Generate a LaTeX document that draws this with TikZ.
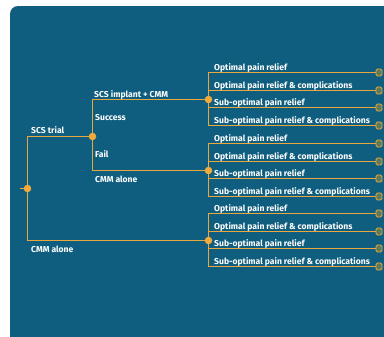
\documentclass[tikz,border=0pt]{standalone}
\usepackage{fontspec}
\setmainfont{Fira Sans}
\definecolor{bgc}{HTML}{0F5E80}
\definecolor{lnc}{HTML}{E8A83E}
\definecolor{dotc}{HTML}{F4AA3A}
\definecolor{termc}{HTML}{5E7A5C}
\tikzset{
  conn/.style={draw=lnc, line width=1.1bp},
  dot/.style={circle, fill=dotc, inner sep=0pt, minimum size=7.5bp},
  term/.style={draw=lnc, fill=termc, rounded corners=1.5bp, line width=0.9bp, inner sep=0pt, minimum width=6bp, minimum height=7bp},
  lbl/.style={text=white, inner sep=0pt, font=\fontsize{8.6}{9.8}\selectfont\bfseries},
}
\begin{document}
\begin{tikzpicture}[x=1bp,y=-1bp]
\useasboundingbox (0,0) rectangle (384,337);
\fill[white] (0,0) rectangle (384,337);
\fill[bgc] (10,337) -- (10,14) arc (180:270:8) -- (384,6) -- (384,337) -- cycle;
% main tree
\node[dot] (root) at (27.5,188.5) {};
\coordinate (stub) at (19.5,188.5);
\coordinate (ct) at (27.5,136.5);
\coordinate (cb) at (27.5,240.5);
\node[dot] (trial) at (92.5,136.5) {};
\coordinate (cit) at (92.5,99.5);
\coordinate (cif) at (92.5,170.5);
\node[dot] (g1) at (208.5,99.5) {};
\node[dot] (g2) at (208.5,170.5) {};
\node[dot] (g3) at (208.5,240.5) {};
\draw[conn] (stub) -- (root);
\draw[conn] (root) -- (ct) -- (trial);
\draw[conn] (root) -- (cb) -- (g3);
\draw[conn] (trial) -- (cit) -- (g1);
\draw[conn] (trial) -- (cif) -- (g2);
% labels
\node[lbl, anchor=base west] (lt) at (31,133.5) {SCS trial};
\node[lbl, anchor=base west] (li) at (94,97) {SCS implant + CMM};
\node[lbl, anchor=base west] (ls) at (95,120.5) {Success};
\node[lbl, anchor=base west] (lf) at (95,157.5) {Fail};
\node[lbl, anchor=base west] (lc1) at (95,182.5) {CMM alone};
\node[lbl, anchor=base west] (lc2) at (31,252.5) {CMM alone};
% leaves
\foreach \g/\y in {1/99.5, 2/170.5, 3/240.5} {
  \foreach \k/\d/\txt in {1/-27/Optimal pain relief, 2/-9/Optimal pain relief \& complications, 3/8/Sub-optimal pain relief, 4/26/Sub-optimal pain relief \& complications} {
    \node[term] (t\g\k) at (379,\y+\d) {};
    \draw[conn] (g\g) |- (t\g\k);
    \node[lbl, anchor=base west] (x\g\k) at (214,\y+\d-2.5) {\txt};
  }
}
\end{tikzpicture}
\end{document}
